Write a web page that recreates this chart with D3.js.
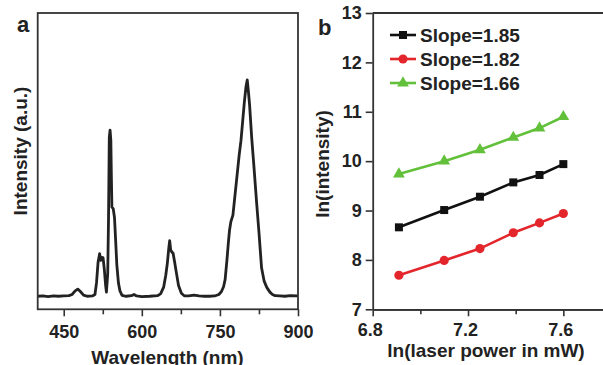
<!DOCTYPE html>
<html>
<head>
<meta charset="utf-8">
<script src="https://cdn.jsdelivr.net/npm/d3@7"></script>
<style>
  body { margin: 0; background: #fff; }
  svg { display: block; font-family: "Liberation Sans", Arial, sans-serif; font-weight: bold; }
</style>
</head>
<body>
<svg id="chart" width="603" height="365"></svg>
<script>
// panel a: emission spectrum
const wavelength = [400, 410, 420, 430, 440, 450, 460, 466, 472, 477, 482, 488, 495, 505, 510, 513, 516, 519, 521, 522.5,
  525.5, 528, 530.5, 532, 534.5, 536, 537.5, 539, 540.5, 541.5, 542.5, 545, 547.5, 549.5, 552, 555, 558, 562, 570, 580,
  585, 590, 600, 615, 630, 636, 642, 646, 649, 652, 653.5, 655.5, 658, 660, 663, 666.5, 670.5, 676, 682, 690,
  700, 710, 720, 730, 740, 748, 753, 757, 760, 763.5, 766, 768.5, 771, 775, 779, 784, 787, 790.5, 794, 797,
  800, 802.5, 805, 807, 811, 815, 820.5, 825, 830, 835, 840, 846, 851, 856, 865, 875, 885, 900];
const intensity = [4.4, 4.5, 4.3, 4.5, 4.4, 4.5, 4.6, 5.0, 6.2, 6.8, 6.0, 4.8, 4.4, 4.5, 5.0, 9.0, 16.0, 18.8, 16.5, 17.5,
  17.4, 13.5, 8.0, 5.8, 12, 30, 58, 60.5, 57, 45, 34.5, 34, 31, 24, 15, 9, 6.2, 4.7, 4.4, 4.6,
  5.0, 4.5, 4.3, 4.4, 4.6, 5.2, 7.5, 11.5, 15.5, 21, 23.2, 20, 19.2, 19, 16, 12.2, 8, 5.4, 4.5, 4.5,
  4.8, 4.5, 4.4, 4.4, 4.5, 5.0, 6.0, 7.6, 10, 16.6, 22, 26.7, 29.5, 31.8, 38.5, 47, 52, 57, 64, 70,
  75, 77.4, 73, 69, 58, 49, 36, 26, 14, 9.5, 7.4, 5.8, 5.0, 4.6, 4.5, 4.4, 4.6, 4.5];
const wlTicks = [450, 600, 750, 900];
const wlMinor = [525, 675, 825];

// panel b: log-log power dependence
const lnPower = [6.91, 7.10, 7.25, 7.39, 7.50, 7.60];
const lnI185 = [8.66, 9.01, 9.28, 9.57, 9.72, 9.94];
const lnI182 = [7.69, 7.99, 8.23, 8.55, 8.75, 8.94];
const lnI166 = [9.74, 10.0, 10.23, 10.48, 10.67, 10.90];
const slopeLabels = ['Slope=1.85', 'Slope=1.82', 'Slope=1.66'];
const powerTicks = [6.8, 7.2, 7.6];
const powerMinor = [7.0, 7.4];
const lnTicks = [7, 8, 9, 10, 11, 12, 13];

const ink = '#222';
const svg = d3.select('#chart');

const plotTop = 13, plotBottom = 309.3;

// ---------- panel a ----------
const xA = d3.scaleLinear().domain([400, 900]).range([37.7, 298]);
const yA = d3.scaleLinear().domain([0, 100]).range([plotBottom, plotTop]);

const gA = svg.append('g');

gA.append('path')
  .datum(wavelength.map((w, i) => [w, intensity[i]]))
  .attr('fill', 'none')
  .attr('stroke', ink)
  .attr('stroke-width', 2.8)
  .attr('stroke-linejoin', 'round')
  .attr('d', d3.line().x(d => xA(d[0])).y(d => yA(d[1])));

gA.append('rect')
  .attr('x', xA(400)).attr('y', plotTop)
  .attr('width', xA(900) - xA(400)).attr('height', plotBottom - plotTop)
  .attr('fill', 'none').attr('stroke', '#333').attr('stroke-width', 1.8);

const axA = gA.append('g').attr('transform', `translate(0,${plotBottom})`)
  .call(d3.axisBottom(xA).tickValues(wlTicks).tickSize(7).tickPadding(9).tickFormat(d3.format('d')));
const axAm = gA.append('g').attr('transform', `translate(0,${plotBottom})`)
  .call(d3.axisBottom(xA).tickValues(wlMinor).tickSize(5).tickFormat(''));
axA.select('.domain').remove();
axAm.select('.domain').remove();

gA.append('text')
  .attr('x', 167.5).attr('y', 363.5)
  .attr('text-anchor', 'middle').attr('font-size', 19).attr('fill', ink)
  .text('Wavelength (nm)');

gA.append('text')
  .attr('transform', 'translate(27,151) rotate(-90)')
  .attr('text-anchor', 'middle').attr('font-size', 19).attr('fill', ink)
  .text('Intensity (a.u.)');

gA.append('text')
  .attr('x', 17).attr('y', 32)
  .attr('font-size', 22).attr('fill', ink)
  .text('a');

// ---------- panel b ----------
const xB = d3.scaleLinear().domain([6.8, 7.8]).range([372.7, 611]);
const yB = d3.scaleLinear().domain([7, 13]).range([plotBottom, plotTop]);

const gB = svg.append('g');

gB.append('line')
  .attr('x1', xB(6.8)).attr('x2', xB(7.8)).attr('y1', plotTop).attr('y2', plotTop)
  .attr('stroke', '#333').attr('stroke-width', 1.8);

const axBx = gB.append('g').attr('transform', `translate(0,${plotBottom})`)
  .call(d3.axisBottom(xB).tickValues(powerTicks).tickSize(7).tickPadding(7).tickSizeOuter(0)
    .tickFormat(d3.format('.1f')));
gB.append('g').attr('transform', `translate(0,${plotBottom})`)
  .call(d3.axisBottom(xB).tickValues(powerMinor).tickSize(5).tickSizeOuter(0).tickFormat(''));
gB.append('g').attr('transform', `translate(${xB(6.8)},0)`)
  .call(d3.axisLeft(yB).tickValues(lnTicks).tickSize(7).tickPadding(4).tickSizeOuter(0)
    .tickFormat(d3.format('d')));

const series = [
  { vals: lnI185, color: '#111', shape: d3.symbolSquare, size: 64 },
  { vals: lnI182, color: '#e3262b', shape: d3.symbolCircle, size: 66 },
  { vals: lnI166, color: '#62c03a', shape: d3.symbolTriangle, size: 60 }
];

series.forEach((s, k) => {
  const pts = lnPower.map((p, i) => [p, s.vals[i]]);
  gB.append('path')
    .datum(pts)
    .attr('fill', 'none')
    .attr('stroke', s.color)
    .attr('stroke-width', 2.6)
    .attr('d', d3.line().x(d => xB(d[0])).y(d => yB(d[1])));
  gB.selectAll(null)
    .data(pts)
    .enter()
    .append('path')
    .attr('transform', d => `translate(${xB(d[0])},${yB(d[1])})`)
    .attr('d', d3.symbol().type(s.shape).size(s.size))
    .attr('fill', s.color);

  // legend row
  const ly = 35 + k * 24;
  gB.append('line')
    .attr('x1', 390).attr('x2', 416).attr('y1', ly).attr('y2', ly)
    .attr('stroke', s.color).attr('stroke-width', 2.6);
  gB.append('path')
    .attr('transform', `translate(403,${ly})`)
    .attr('d', d3.symbol().type(s.shape).size(s.size))
    .attr('fill', s.color);
  gB.append('text')
    .attr('x', 420).attr('y', ly).attr('dy', '0.36em')
    .attr('font-size', 19).attr('fill', ink)
    .text(slopeLabels[k]);
});

gB.append('text')
  .attr('x', 486).attr('y', 356.5)
  .attr('text-anchor', 'middle').attr('font-size', 19).attr('fill', ink)
  .text('ln(laser power in mW)');

gB.append('text')
  .attr('transform', 'translate(329,164) rotate(-90)')
  .attr('text-anchor', 'middle').attr('font-size', 19).attr('fill', ink)
  .text('ln(intensity)');

gB.append('text')
  .attr('x', 318).attr('y', 35)
  .attr('font-size', 22).attr('fill', ink)
  .text('b');

// axis styling
svg.selectAll('.domain').attr('stroke', '#333').attr('stroke-width', 1.8);
svg.selectAll('.tick line').attr('stroke', '#333').attr('stroke-width', 1.6);
svg.selectAll('.tick text')
  .attr('font-size', 18).attr('font-family', '"Liberation Sans", Arial, sans-serif')
  .attr('font-weight', 'bold').attr('fill', ink);
axBx.selectAll('.tick text').attr('dx', -3);
</script>
</body>
</html>
